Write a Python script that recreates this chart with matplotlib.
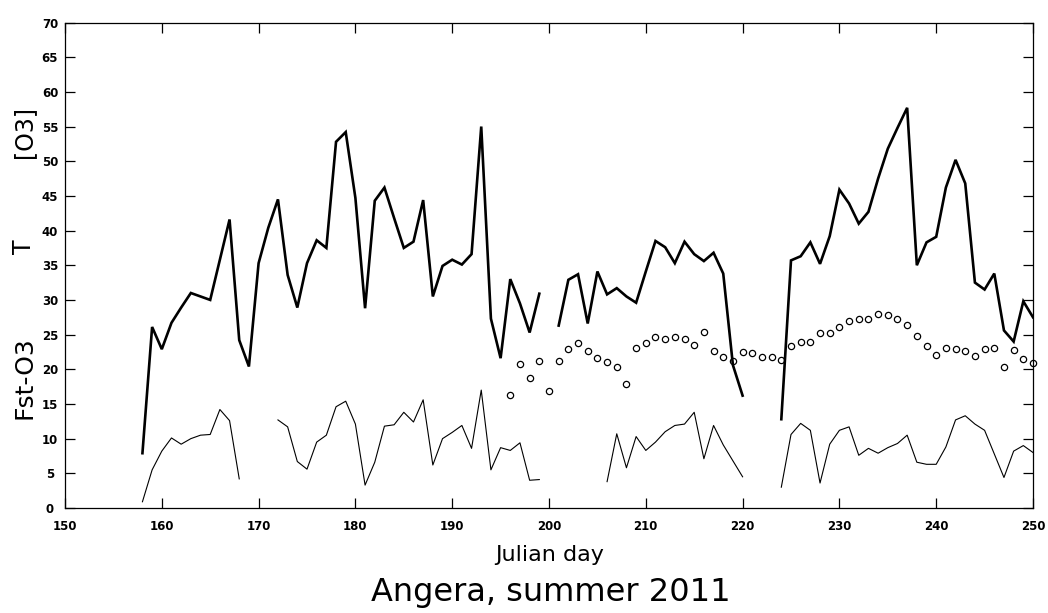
import numpy as np
import matplotlib
matplotlib.use("Agg")
import matplotlib.pyplot as plt

nan = np.nan

# julian days 158..250
days = np.arange(158, 251)

# [O3] (thick line)
o3 = [7.9, 26.1, 22.9, 26.7, 28.9, 31.0, 30.5, 30.0, 35.8, 41.6,
      24.2, 20.4, 35.3, 40.4, 44.5, 33.6, 28.9, 35.3, 38.6, 37.5,
      52.8, 54.2, 44.7, 28.8, 44.3, 46.2, 41.8, 37.5, 38.4, 44.4,
      30.5, 34.9, 35.8, 35.1, 36.6, 55.0, 27.3, 21.6, 33.0, 29.5,
      25.3, 30.9, nan, 26.3, 32.9, 33.7, 26.6, 34.1, 30.8, 31.7,
      30.5, 29.6, 34.1, 38.5, 37.6, 35.3, 38.4, 36.6, 35.6, 36.8,
      33.8, 20.6, 16.2, nan, nan, nan, 12.8, 35.7, 36.3, 38.3,
      35.2, 39.2, 45.9, 43.9, 41.0, 42.7, 47.5, 51.8, 54.8, 57.7,
      35.0, 38.3, 39.1, 46.2, 50.2, 46.8, 32.5, 31.5, 33.8, 25.6,
      24.0, 29.8, 27.5]

# Fst-O3 (thin line)
fst = [0.9, 5.5, 8.2, 10.1, 9.2, 10.0, 10.5, 10.6, 14.2, 12.6,
       4.2, nan, nan, nan, 12.7, 11.7, 6.7, 5.6, 9.5, 10.5,
       14.6, 15.4, 12.1, 3.3, 6.6, 11.8, 12.0, 13.8, 12.4, 15.6,
       6.2, 10.0, 10.9, 11.9, 8.6, 17.0, 5.5, 8.7, 8.3, 9.4,
       4.0, 4.1, nan, nan, nan, nan, nan, nan, 3.8, 10.7,
       5.8, 10.3, 8.3, 9.5, 11.0, 11.9, 12.1, 13.8, 7.1, 11.9,
       9.1, 6.8, 4.5, nan, nan, nan, 3.0, 10.6, 12.2, 11.2,
       3.6, 9.2, 11.2, 11.7, 7.6, 8.6, 7.9, 8.7, 9.3, 10.5,
       6.6, 6.3, 6.3, 8.8, 12.7, 13.3, 12.1, 11.2, 7.8, 4.4,
       8.2, 9.0, 8.0]

# T (open circles), days 196..250
t_days = np.arange(196, 251)
temp = [16.3, 20.8, 18.7, 21.2, 16.8, 21.2, 22.9, 23.8, 22.6, 21.6,
        21.1, 20.4, 17.9, 23.0, 23.8, 24.7, 24.4, 24.6, 24.4, 23.5,
        25.4, 22.7, 21.8, 21.2, 22.5, 22.4, 21.8, 21.8, 21.3, 23.3,
        23.9, 23.9, 25.2, 25.2, 26.1, 27.0, 27.2, 27.2, 27.9, 27.8,
        27.2, 26.4, 24.8, 23.4, 22.1, 23.1, 22.9, 22.7, 21.9, 22.9,
        23.1, 20.3, 22.8, 21.5, 20.9]

W, H = 1048, 613
fig = plt.figure(figsize=(W/100, H/100), dpi=100)
ax = fig.add_axes([65/W, 1-508/H, (1033-65)/W, (508-22.5)/H])

ax.plot(days, o3, color="black", lw=1.9, solid_joinstyle="miter")
ax.plot(days, fst, color="black", lw=0.8)
ax.plot(t_days, temp, "o", ms=4.5, mfc="none", mec="black", mew=0.9, clip_on=False)

ax.set_xlim(150, 250)
ax.set_ylim(0, 70)
ax.set_xticks(np.arange(150, 251, 10))
ax.set_yticks(np.arange(0, 71, 5))
ax.tick_params(direction="in", top=True, right=True, length=7, width=0.9,
               labelsize=8.5)
ax.tick_params(axis="x", pad=9)
ax.tick_params(axis="y", pad=10.8)
for lab in ax.get_xticklabels() + ax.get_yticklabels():
    lab.set_fontweight("bold")
    lab.set_family("DejaVu Sans")
for lab in ax.get_yticklabels():
    lab.set_horizontalalignment("center")
for s in ax.spines.values():
    s.set_linewidth(0.9)

lbl = dict(family="DejaVu Sans", color="black")
fig.text(24/W, 1-132/H, "[O3]", rotation=90, ha="center", va="center", fontsize=17, **lbl)
fig.text(24/W, 1-247/H, "T", rotation=90, ha="center", va="center", fontsize=17, **lbl)
fig.text(24/W, 1-378/H, "Fst-O3", rotation=90, ha="center", va="center", fontsize=18, **lbl)
fig.text(550/W, 1-561/H, "Julian day", ha="center", va="baseline", fontsize=16, **lbl)
fig.text(551/W, 1-601/H, "Angera, summer 2011", ha="center", va="baseline", fontsize=23, **lbl)

fig.savefig("out.png", dpi=100)
